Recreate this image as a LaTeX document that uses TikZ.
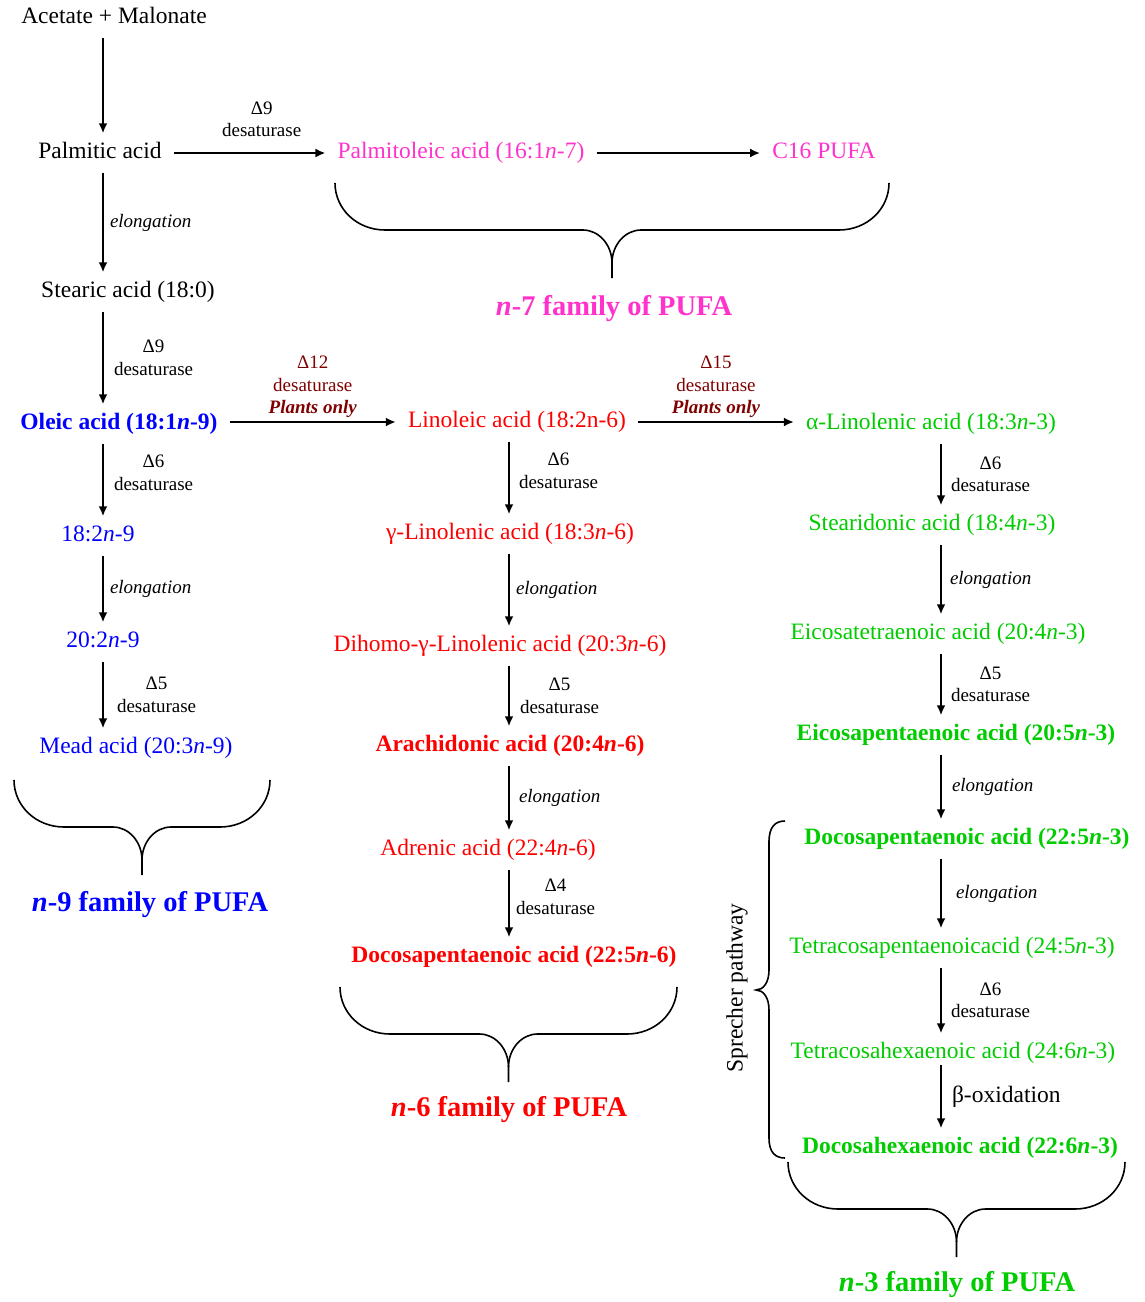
\documentclass[tikz,border=0pt]{standalone}
\usepackage{fontspec}
\setmainfont{Liberation Serif}
\usepackage{tikz}
\usepackage{xcolor}
\usetikzlibrary{arrows.meta}
\definecolor{pufapink}{RGB}{255,51,204}
\definecolor{pufablue}{RGB}{0,0,255}
\definecolor{pufared}{RGB}{255,0,0}
\definecolor{pufagreen}{RGB}{0,204,0}
\definecolor{plantred}{RGB}{128,0,0}

\begin{document}
\begin{tikzpicture}[x=1pt,y=-1pt,
  acid/.style={inner xsep=12pt,inner ysep=9pt,text height=16pt,text depth=5pt,font=\fontsize{23.5}{28}\selectfont},
  enz/.style={inner sep=1pt,align=center,font=\fontsize{19}{22.5}\selectfont},
  elong/.style={inner sep=1pt,font=\fontsize{19}{22}\selectfont\itshape},
  fam/.style={font=\fontsize{28.5}{32}\selectfont\bfseries},
  arr/.style={-{Latex[length=10pt,width=9pt]},line width=2pt},
  brace/.style={line width=1.6pt}]
\useasboundingbox (0,0) rectangle (1144,1302);
\coordinate (colA) at (103,0);
\coordinate (colB) at (509,0);
\coordinate (colC) at (941,0);
% saturated start
\node[acid] (acet) at (114,18) {Acetate + Malonate};
\node[acid] (palm) at (100,153) {Palmitic acid};
\node[acid] (stear) at (128,292) {Stearic acid (18:0)};
% n-7
\node[acid,pufapink] (palmo) at (461,153) {Palmitoleic acid (16:1\textit{n}-7)};
\node[acid,pufapink] (cpufa) at (824,153) {C16 PUFA};
% n-9
\node[acid,pufablue] (oleic) at (119,424) {\textbf{Oleic acid (18:1\textit{n}-9)}};
\node[acid,pufablue] (n9a) at (98,536) {18:2\textit{n}-9};
\node[acid,pufablue] (n9b) at (103,642) {20:2\textit{n}-9};
\node[acid,pufablue] (mead) at (136,748) {Mead acid (20:3\textit{n}-9)};
% n-6
\node[acid,pufared] (lino) at (517,422) {Linoleic acid (18:2n-6)};
\node[acid,pufared] (glin) at (510,534) {γ-Linolenic acid (18:3\textit{n}-6)};
\node[acid,pufared] (dgla) at (500,646) {Dihomo-γ-Linolenic acid (20:3\textit{n}-6)};
\node[acid,pufared] (ara) at (510,746) {\textbf{Arachidonic acid (20:4\textit{n}-6)}};
\node[acid,pufared] (adr) at (488,850) {Adrenic acid (22:4\textit{n}-6)};
\node[acid,pufared] (dpa6) at (514,957) {\textbf{Docosapentaenoic acid (22:5\textit{n}-6)}};
% n-3
\node[acid,pufagreen] (alin) at (931,424) {α-Linolenic acid (18:3\textit{n}-3)};
\node[acid,pufagreen] (sda) at (932,525) {Stearidonic acid (18:4\textit{n}-3)};
\node[acid,pufagreen] (eta) at (938,634) {Eicosatetraenoic acid (20:4\textit{n}-3)};
\node[acid,pufagreen] (epa) at (956,735) {\textbf{Eicosapentaenoic acid (20:5\textit{n}-3)}};
\node[acid,pufagreen] (dpa3) at (967,839) {\textbf{Docosapentaenoic acid (22:5\textit{n}-3)}};
\node[acid,pufagreen] (tpa) at (952,948) {Tetracosapentaenoicacid (24:5\textit{n}-3)};
\node[acid,pufagreen] (tha) at (953,1053) {Tetracosahexaenoic acid (24:6\textit{n}-3)};
\node[acid,pufagreen] (dha) at (960,1148) {\textbf{Docosahexaenoic acid (22:6\textit{n}-3)}};
% family labels
\node[fam,pufapink] (fam7) at (614,309) {\textit{n}-7 family of PUFA};
\node[fam,pufablue] (fam9) at (150,905) {\textit{n}-9 family of PUFA};
\node[fam,pufared] (fam6) at (509,1110) {\textit{n}-6 family of PUFA};
\node[fam,pufagreen] (fam3) at (957,1285) {\textit{n}-3 family of PUFA};
\node[acid,rotate=90] (sprech) at (737,988) {Sprecher pathway};

% horizontal steps
\draw[arr] (palm.east) -- (palmo.west) node[enz,midway,above=14pt,xshift=12pt] {Δ9\\desaturase};
\draw[arr] (palmo.east) -- (cpufa.west);
\draw[arr] (oleic.east |- lino) -- (lino.west) node[enz,plantred,midway,above=2pt] {Δ12\\desaturase\\\textbf{\textit{Plants only}}};
\draw[arr] (lino.east) -- (lino.east -| alin.west) node[enz,plantred,midway,above=2pt] {Δ15\\desaturase\\\textbf{\textit{Plants only}}};

% left column
\draw[arr] (acet.south -| colA) -- (palm.north -| colA);
\draw[arr] (palm.south -| colA) -- (stear.north -| colA) node[elong,midway,right,xshift=5pt] {elongation};
\draw[arr] (stear.south -| colA) -- (oleic.north -| colA) node[enz,midway,right,xshift=9pt] {Δ9\\desaturase};
\draw[arr] (oleic.south -| colA) -- (n9a.north -| colA) node[enz,pos=0.4,right,xshift=9pt] {Δ6\\desaturase};
\draw[arr] (n9a.south -| colA) -- (n9b.north -| colA) node[elong,midway,right,xshift=5pt] {elongation};
\draw[arr] (n9b.south -| colA) -- (mead.north -| colA) node[enz,midway,right,xshift=12pt] {Δ5\\desaturase};

% middle column
\draw[arr] (lino.south -| colB) -- (glin.north -| colB) node[enz,pos=0.4,right,xshift=8pt] {Δ6\\desaturase};
\draw[arr] (glin.south -| colB) -- (dgla.north -| colB) node[elong,midway,right,xshift=5pt] {elongation};
\draw[arr] (dgla.south -| colB) -- (ara.north -| colB) node[enz,midway,right,xshift=9pt] {Δ5\\desaturase};
\draw[arr] (ara.south -| colB) -- (adr.north -| colB) node[elong,midway,right,xshift=8pt] {elongation};
\draw[arr] (adr.south -| colB) -- (dpa6.north -| colB) node[enz,pos=0.4,right,xshift=5pt] {Δ4\\desaturase};

% right column
\draw[arr] (alin.south -| colC) -- (sda.north -| colC) node[enz,midway,right,xshift=8pt] {Δ6\\desaturase};
\draw[arr] (sda.south -| colC) -- (eta.north -| colC) node[elong,midway,right,xshift=7pt] {elongation};
\draw[arr] (eta.south -| colC) -- (epa.north -| colC) node[enz,midway,right,xshift=8pt] {Δ5\\desaturase};
\draw[arr] (epa.south -| colC) -- (dpa3.north -| colC) node[elong,midway,right,xshift=9pt] {elongation};
\draw[arr] (dpa3.south -| colC) -- (tpa.north -| colC) node[elong,midway,right,xshift=13pt] {elongation};
\draw[arr] (tpa.south -| colC) -- (tha.north -| colC) node[enz,midway,right,xshift=8pt] {Δ6\\desaturase};
\draw[arr] ([yshift=8pt]tha.south -| colC) -- (dha.north -| colC) node[acid,midway,right,inner xsep=1pt,xshift=9pt] {β-oxidation};

% family braces
\foreach \xa/\xb/\yt in {14/270/780,335/889/183,340/677/987,788/1125/1162} {
  \draw[brace] (\xa,\yt) .. controls (\xa,\yt+26) and (\xa+22,\yt+47) .. (\xa+50,\yt+47)
    -- ({(\xa+\xb)/2-29},\yt+47) .. controls ({(\xa+\xb)/2-13},\yt+47) and ({(\xa+\xb)/2},\yt+62) .. ({(\xa+\xb)/2},\yt+80)
    -- ({(\xa+\xb)/2},\yt+95);
  \draw[brace] (\xb,\yt) .. controls (\xb,\yt+26) and (\xb-22,\yt+47) .. (\xb-50,\yt+47)
    -- ({(\xa+\xb)/2+29},\yt+47) .. controls ({(\xa+\xb)/2+13},\yt+47) and ({(\xa+\xb)/2},\yt+62) .. ({(\xa+\xb)/2},\yt+80);
}
% Sprecher brace
\draw[brace] (785,821) .. controls (775,821) and (769,827) .. (769,842) -- (769,970)
  .. controls (769,983) and (763,990) .. (756,990)
  .. controls (763,990) and (769,997) .. (769,1010) -- (769,1138)
  .. controls (769,1152) and (775,1158) .. (785,1158);
\end{tikzpicture}
\end{document}
